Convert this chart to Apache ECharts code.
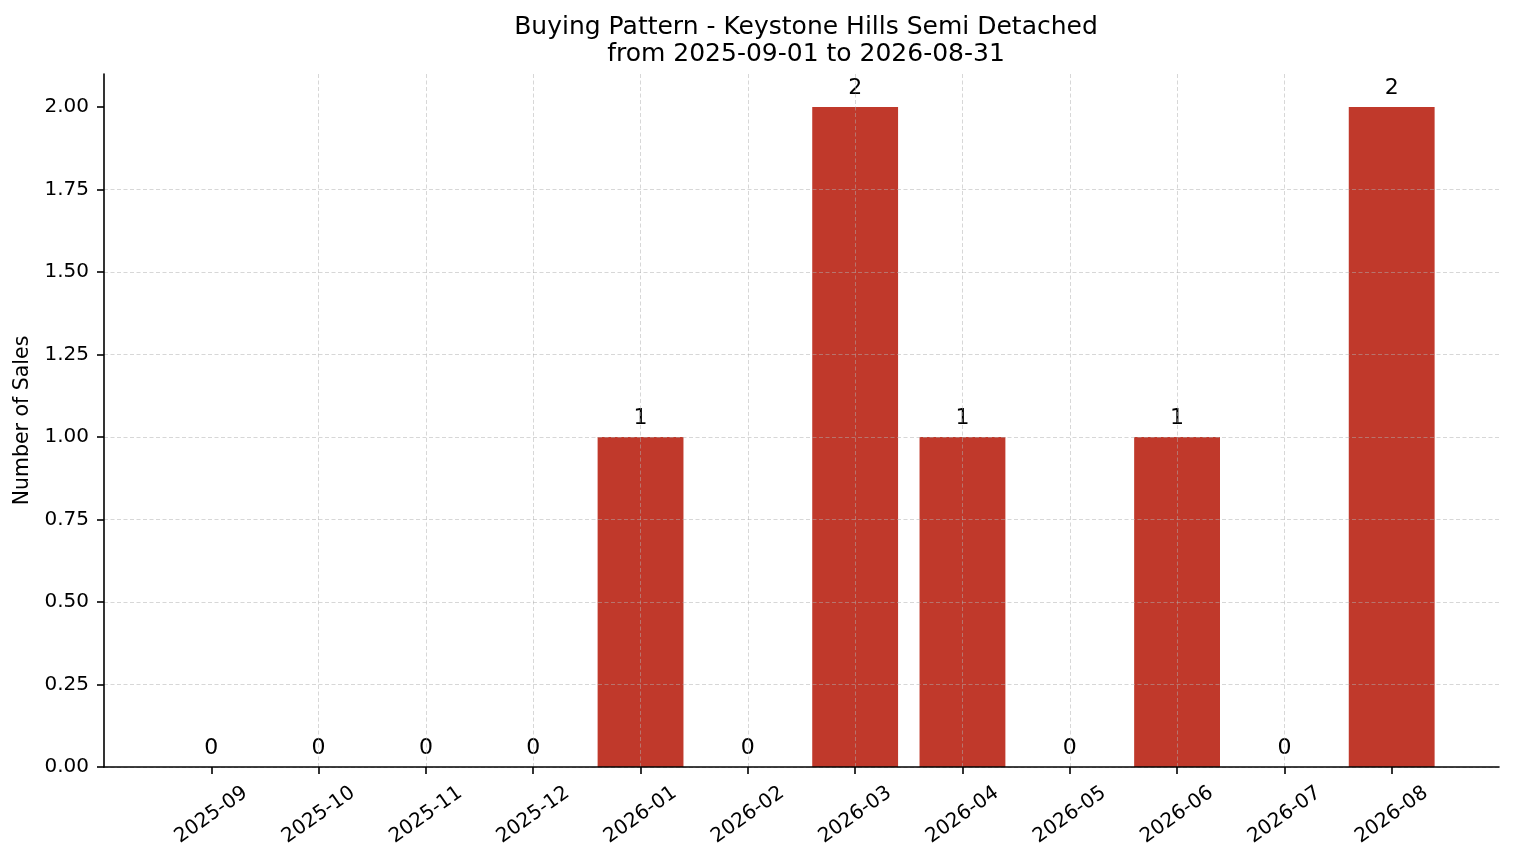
<!DOCTYPE html>
<html>
<head>
<meta charset="utf-8">
<script src="https://cdn.jsdelivr.net/npm/echarts@6/dist/echarts.min.js"></script>
<style>
  html, body { margin: 0; padding: 0; background: #fff; }
  #chart { width: 1514px; height: 863px; }
</style>
</head>
<body>
<div id="chart"></div>
<script>
const months = ['2025-09', '2025-10', '2025-11', '2025-12', '2026-01', '2026-02',
  '2026-03', '2026-04', '2026-05', '2026-06', '2026-07', '2026-08'];
const sales = [0, 0, 0, 0, 1, 0, 2, 1, 0, 1, 0, 2];
const yTicks = [0, 0.25, 0.5, 0.75, 1, 1.25, 1.5, 1.75, 2];

// pad one empty slot each side so the axis runs from -1 to 12 like the original
const cats = [''].concat(months, ['']);
const barData = [null].concat(sales, [null]);
const inner = (i) => i > 0 && i < cats.length - 1;

const font = 'DejaVu Sans';
const gridLine = { color: 'rgba(176,176,176,0.5)', type: [4, 2.5], width: 1 };
const chart = echarts.init(document.getElementById('chart'));

chart.setOption({
  animation: false,
  textStyle: { fontFamily: font },
  title: {
    text: 'Buying Pattern - Keystone Hills Semi Detached\nfrom 2025-09-01 to 2026-08-31',
    left: 801,
    textAlign: 'center',
    top: 9,
    textStyle: { fontFamily: font, fontSize: 25, fontWeight: 'normal', color: '#000', lineHeight: 27 }
  },
  grid: { left: 104, right: 15, top: 74, bottom: 96, containLabel: false, outerBoundsMode: 'none' },
  xAxis: {
    type: 'category',
    data: cats,
    boundaryGap: false,
    z: 3,
    axisLine: { lineStyle: { color: '#000', width: 1.6 } },
    axisTick: { length: 7, interval: (i) => inner(i), lineStyle: { color: '#000', width: 1.6 } },
    axisLabel: {
      interval: (i) => inner(i),
      rotate: 35,
      margin: 48,
      align: 'center',
      verticalAlign: 'middle',
      fontSize: 20,
      color: '#000',
      fontFamily: font
    },
    splitLine: {
      show: true,
      showMinLine: false,
      showMaxLine: false,
      interval: (i) => inner(i),
      lineStyle: gridLine
    }
  },
  yAxis: {
    type: 'value',
    min: 0,
    max: 2.1,
    interval: 0.25,
    z: 3,
    name: 'Number of Sales',
    nameLocation: 'middle',
    nameGap: 70,
    nameTextStyle: { fontSize: 20.5, color: '#000', fontFamily: font },
    axisLine: { show: true, lineStyle: { color: '#000', width: 1.6 } },
    axisTick: { show: true, length: 7, customValues: yTicks, lineStyle: { color: '#000', width: 1.6 } },
    axisLabel: {
      fontSize: 20,
      color: '#000',
      margin: 15,
      fontFamily: font,
      customValues: yTicks,
      formatter: (v) => v.toFixed(2)
    },
    splitLine: { showMaxLine: false, lineStyle: gridLine }
  },
  series: [{
    type: 'bar',
    data: barData,
    barWidth: '80%',
    itemStyle: { color: '#c0392b' },
    label: {
      show: true,
      position: 'top',
      distance: 8,
      fontSize: 22,
      color: '#000',
      fontFamily: font,
      formatter: (p) => String(p.value)
    }
  }]
});
</script>
</body>
</html>
